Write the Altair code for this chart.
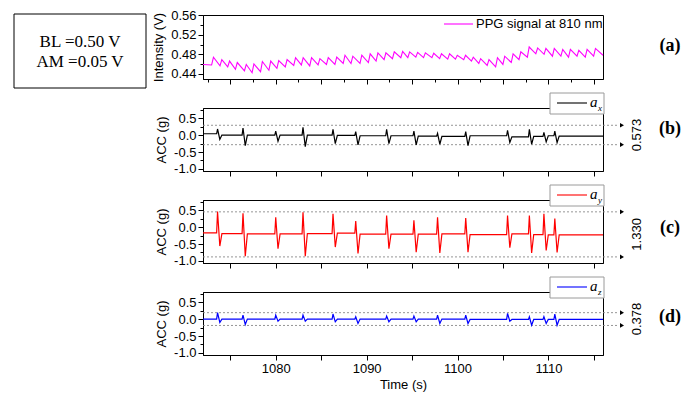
import altair as alt
import pandas as pd

FONT = "Liberation Sans"
SERIF = "Liberation Serif"

# ---------------- data ----------------
T_START, T_END = 1072.0, 1116.0
X_DOM = [1072, 1116]

# PPG (panel a): peak times, peak values, trough value preceding each peak
ppg_peak_t = [1073.15, 1074.07, 1074.92, 1075.77, 1076.76, 1077.60, 1078.53, 1079.45,
              1080.33, 1081.25, 1082.18, 1083.02, 1083.94, 1084.86, 1085.78, 1086.71,
              1087.62, 1088.48, 1089.47, 1090.39, 1091.24, 1092.12, 1093.04, 1093.96,
              1094.73, 1095.61, 1096.46, 1097.38, 1098.23, 1099.12, 1099.97, 1100.88,
              1101.73, 1102.54, 1103.46, 1104.39, 1105.19, 1106.11, 1106.96, 1107.88,
              1108.81, 1109.72, 1110.64, 1111.57, 1112.41, 1113.34, 1114.25, 1115.17]
ppg_peak_v = [0.474, 0.469, 0.466, 0.463, 0.459, 0.460, 0.465, 0.466, 0.467, 0.469, 0.473, 0.473,
              0.473, 0.471, 0.473, 0.474, 0.478, 0.476, 0.478, 0.481, 0.483, 0.483, 0.485, 0.486,
              0.485, 0.484, 0.483, 0.482, 0.481, 0.481, 0.478, 0.478, 0.474, 0.471, 0.469, 0.473,
              0.476, 0.481, 0.485, 0.495, 0.493, 0.492, 0.492, 0.490, 0.490, 0.488, 0.490, 0.492]
ppg_trough_v = [0.458, 0.456, 0.454, 0.449, 0.446, 0.442, 0.444, 0.447, 0.451, 0.454, 0.457, 0.458,
                0.456, 0.458, 0.459, 0.459, 0.461, 0.461, 0.461, 0.463, 0.466, 0.469, 0.471, 0.473,
                0.473, 0.474, 0.473, 0.473, 0.471, 0.470, 0.470, 0.469, 0.466, 0.461, 0.457, 0.454,
                0.459, 0.463, 0.469, 0.474, 0.481, 0.480, 0.476, 0.476, 0.474, 0.476, 0.474, 0.476]
ppg_start_v, ppg_end_v = 0.459, 0.478
RISE = 0.2

# Accelerometer motion events (panels b-d)
evt_t = [1073.6, 1076.4, 1080.0, 1083.0, 1086.3, 1088.8, 1092.2,
         1095.2, 1097.8, 1100.9, 1105.5, 1107.9, 1109.5, 1110.7]

ax_up = [0.18, 0.21, 0.12, 0.23, 0.17, 0.10, 0.17, 0.12, 0.05, 0.10, 0.14, 0.17, 0.08, 0.12]
ax_dn = [-0.13, -0.31, -0.18, -0.34, -0.25, -0.29, -0.25, -0.29, -0.27, -0.31, -0.22, -0.27, -0.20, -0.22]
ax_base = [0.04, 0.0, 0.0, 0.0, 0.0, -0.01, -0.02, -0.02, -0.03, -0.04, -0.02, -0.05, -0.04, -0.02, -0.03]

ay_up = [0.46, 0.41, 0.29, 0.44, 0.39, 0.18, 0.34, 0.20, 0.29, 0.27, 0.34, 0.34, 0.39, 0.25]
ay_dn = [-0.56, -0.86, -0.64, -0.86, -0.59, -0.78, -0.64, -0.74, -0.76, -0.74, -0.61, -0.76, -0.69, -0.75]
ay_base = [-0.17, -0.19, -0.20, -0.20, -0.19, -0.18, -0.21, -0.21, -0.21, -0.20, -0.22, -0.20, -0.22, -0.23, -0.23]

az_up = [0.19, 0.12, 0.12, 0.12, 0.15, 0.07, 0.09, 0.09, 0.12, 0.12, 0.17, 0.07, 0.07, 0.15]
az_dn = [-0.10, -0.16, -0.06, -0.06, -0.08, -0.13, -0.08, -0.08, -0.13, -0.13, -0.06, -0.18, -0.13, -0.18]
az_base = [0.0, 0.0, 0.0, 0.0, 0.0, 0.0, 0.0, 0.0, 0.0, 0.0, -0.01, -0.01, -0.01, -0.01, -0.01]

# spike shape offsets (s): onset, up tip, down tip, recovery
SPIKE_DT = [-0.1, 0.0, 0.25, 0.48]

ax_lines = [0.290, -0.283]
ay_lines = [0.450, -0.880]
az_lines = [0.190, -0.188]
diff_labels = ["0.573", "1.330", "0.378"]
panel_labels = ["(a)", "(b)", "(c)", "(d)"]
subs = ["x", "y", "z"]

x_ticks_a = [1072.5, 1075, 1077.5, 1080, 1082.5, 1085, 1087.5, 1090, 1092.5, 1095,
             1097.5, 1100, 1102.5, 1105, 1107.5, 1110, 1112.5, 1115]
x_ticks_acc = [1075, 1080, 1085, 1090, 1095, 1100, 1105, 1110, 1115]
y_ticks_a = [0.44, 0.46, 0.48, 0.50, 0.52, 0.54, 0.56]
y_ticks_acc = [-1.0, -0.75, -0.5, -0.25, 0.0, 0.25, 0.5, 0.75]
Y_DOM_A = [0.429, 0.561]
Y_DOM_ACC = [-1.06, 0.8]


def ppg_frame():
    rows = [(T_START, ppg_start_v)]
    for t, tv, pv in zip(ppg_peak_t, ppg_trough_v, ppg_peak_v):
        rows.append((t - RISE, tv))
        rows.append((t, pv))
    rows.append((T_END, ppg_end_v))
    return pd.DataFrame(rows, columns=["t", "v"])


def acc_frame(up, dn, base):
    d0, d1, d2, d3 = SPIKE_DT
    rows = [(T_START, base[0])]
    for i, t in enumerate(evt_t):
        rows += [(t + d0, base[i]), (t + d1, up[i]), (t + d2, dn[i]), (t + d3, base[i + 1])]
    rows.append((T_END, base[-1]))
    return pd.DataFrame(rows, columns=["t", "v"])


def one(**kw):
    return pd.DataFrame({k: [v] for k, v in kw.items()} or {"k": [0]})


def x_enc(values, major_mod, labelled):
    return alt.X(
        "t:Q",
        scale=alt.Scale(domain=X_DOM, nice=False, zero=False),
        axis=alt.Axis(
            values=values,
            title="Time (s)" if labelled else None,
            labels=labelled,
            labelExpr="datum.value % 10 == 0 ? format(datum.value, 'd') : ''",
            tickSize={"condition": {"test": f"datum.value % {major_mod} == 0", "value": 5}, "value": 3},
            grid=False,
            titlePadding=3,
        ),
    )


W = 400

# ---------------- panel a ----------------
ya = alt.Y(
    "v:Q",
    scale=alt.Scale(domain=Y_DOM_A, nice=False, zero=False),
    axis=alt.Axis(
        values=y_ticks_a,
        title="Intensity (V)",
        labelExpr="round(datum.value*100) % 4 == 0 ? format(datum.value, '.2f') : ''",
        tickSize={"condition": {"test": "round(datum.value*100) % 4 == 0", "value": 5}, "value": 3},
        grid=False,
        titlePadding=5,
    ),
)
xa = x_enc(x_ticks_a, 5, False)
ppg_line = alt.Chart(ppg_frame()).mark_line(color="#ff00ff", strokeWidth=1.1).encode(x=xa, y=ya)
anchor = alt.Chart(one()).mark_rect(fill="white").encode(
    x=alt.value(-202), x2=alt.value(-201), y=alt.value(-14), y2=alt.value(-13))
bl_box = alt.Chart(one()).mark_rect(fill="white", stroke="black", strokeWidth=1).encode(
    x=alt.value(-189), x2=alt.value(-57), y=alt.value(-1), y2=alt.value(73))
bl_text1 = alt.Chart(one(s="BL =0.50 V")).mark_text(
    font=SERIF, fontSize=17, align="center", baseline="alphabetic", color="black"
).encode(x=alt.value(-123), y=alt.value(32), text="s:N")
bl_text2 = alt.Chart(one(s="AM =0.05 V")).mark_text(
    font=SERIF, fontSize=17, align="center", baseline="alphabetic", color="black"
).encode(x=alt.value(-123), y=alt.value(52), text="s:N")
leg_a_line = alt.Chart(one()).mark_rule(color="#ff00ff", strokeWidth=1.1).encode(
    x=alt.value(241), x2=alt.value(270), y=alt.value(9))
leg_a_text = alt.Chart(one(s="PPG signal at 810 nm")).mark_text(
    font=FONT, fontSize=13, align="left", baseline="middle", color="black"
).encode(x=alt.value(273), y=alt.value(9), text="s:N")
lab_a = alt.Chart(one(s=panel_labels[0])).mark_text(
    font=SERIF, fontSize=18, fontWeight="bold", align="center", baseline="middle", color="black"
).encode(x=alt.value(467), y=alt.value(31), text="s:N")

panel_a = alt.layer(anchor, bl_box, bl_text1, bl_text2, ppg_line, leg_a_line, leg_a_text, lab_a).properties(
    width=W, height=64)


# ---------------- panels b-d ----------------
def acc_panel(df, color, sub, lines, diff_label, plabel, plabel_y, labelled):
    y = alt.Y(
        "v:Q",
        scale=alt.Scale(domain=Y_DOM_ACC, nice=False, zero=False),
        axis=alt.Axis(
            values=y_ticks_acc,
            title="ACC (g)",
            labelExpr="round(datum.value*4) % 2 == 0 ? replace(format(datum.value, '.1f'), '\u2212', '-') : ''",
            tickSize={"condition": {"test": "round(datum.value*4) % 2 == 0", "value": 5}, "value": 3},
            grid=False,
            titlePadding=5,
        ),
    )
    x = x_enc(x_ticks_acc, 5, labelled)
    line = alt.Chart(df).mark_line(color=color, strokeWidth=1.2).encode(x=x, y=y)
    ref = pd.DataFrame({"v": lines})
    dashed = alt.Chart(ref).mark_rule(color="#8a8a8a", strokeDash=[2, 2], strokeWidth=0.9).encode(
        y=y, x=alt.value(0), x2=alt.value(416))
    arrows = alt.Chart(ref).mark_point(shape="triangle-right", filled=True, color="black",
                                       size=22, opacity=1).encode(y=y, x=alt.value(419))
    mid = pd.DataFrame({"v": [(lines[0] + lines[1]) / 2], "lab": [diff_label]})
    val = alt.Chart(mid).mark_text(angle=270, font=FONT, fontSize=13, color="black",
                                   align="center", baseline="middle").encode(
        y=y, x=alt.value(434), text="lab:N")
    box = alt.Chart(one()).mark_rect(fill="white", stroke="#9a9a9a", strokeWidth=1).encode(
        x=alt.value(347), x2=alt.value(401), y=alt.value(-15), y2=alt.value(6))
    sample = alt.Chart(one()).mark_rule(color=color, strokeWidth=1.1).encode(
        x=alt.value(354), x2=alt.value(384), y=alt.value(-5))
    a_txt = alt.Chart(one(s="a")).mark_text(font=SERIF, fontStyle="italic", fontSize=15, align="left",
                                            baseline="alphabetic", color="black").encode(
        x=alt.value(387), y=alt.value(-1), text="s:N")
    sub_txt = alt.Chart(one(s=sub)).mark_text(font=SERIF, fontStyle="italic", fontSize=9, align="left",
                                              baseline="alphabetic", color="black").encode(
        x=alt.value(395), y=alt.value(3), text="s:N")
    plab = alt.Chart(one(s=plabel)).mark_text(font=SERIF, fontSize=18, fontWeight="bold", align="center",
                                              baseline="middle", color="black").encode(
        x=alt.value(467), y=alt.value(plabel_y), text="s:N")
    return alt.layer(dashed, line, arrows, val, box, sample, a_txt, sub_txt, plab).properties(
        width=W, height=63)


panel_b = acc_panel(acc_frame(ax_up, ax_dn, ax_base), "black", subs[0], ax_lines, diff_labels[0],
                    panel_labels[1], 21, False)
panel_c = acc_panel(acc_frame(ay_up, ay_dn, ay_base), "#ff0000", subs[1], ay_lines, diff_labels[1],
                    panel_labels[2], 28, False)
panel_d = acc_panel(acc_frame(az_up, az_dn, az_base), "#0000ff", subs[2], az_lines, diff_labels[2],
                    panel_labels[3], 25, True)

chart = alt.vconcat(panel_a, panel_b, panel_c, panel_d, spacing=29, bounds="flush").properties(
    padding=0
).configure_view(stroke="black", strokeWidth=1).configure_axis(
    domainColor="black", tickColor="black", labelColor="black", titleColor="black",
    labelFont=FONT, titleFont=FONT, labelFontSize=13, titleFontSize=13,
    titleFontWeight="normal", labelPadding=2, domainWidth=1, tickWidth=1,
)

chart.save("out.html", embed_options={"renderer": "svg", "actions": False})
